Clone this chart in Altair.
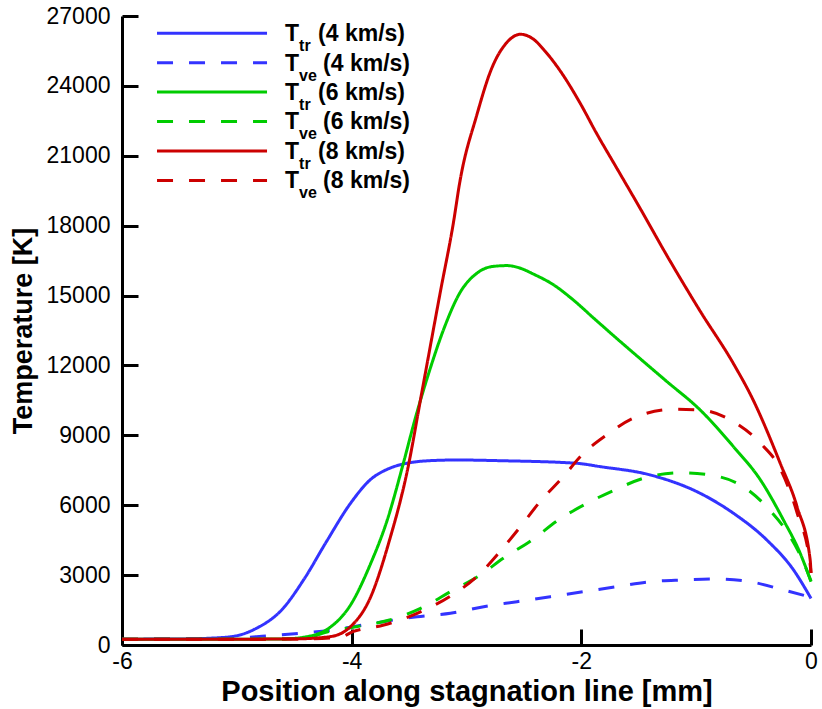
import altair as alt
import pandas as pd

# ---------------- data ----------------
x_tr4 = [-6, -5.5, -5.2, -5.0, -4.83, -4.61, -4.41, -4.22, -4.01, -3.84, -3.67, -3.52, -3.32, -3.08, -2.71,
         -2.04, -1.84, -1.40, -0.965, -0.675, -0.385, -0.152, 0]
T_tr4 = [250, 260, 300, 400, 716, 1503, 2862, 4435, 6083, 7083, 7585, 7800, 7912, 7942, 7912,
         7800, 7660, 7300, 6512, 5654, 4508, 3220, 2000]

x_ve4 = [-6, -5.5, -5.0, -4.83, -4.45, -4.16, -3.90, -3.43, -3.14, -2.85, -2.56, -2.27, -1.98, -1.69,
         -1.40, -1.11, -0.82, -0.53, -0.24, 0]
T_ve4 = [250, 260, 300, 358, 502, 644, 859, 1216, 1360, 1645, 1859, 2074, 2288, 2503,
         2718, 2790, 2833, 2718, 2361, 2047]

x_tr6 = [-6, -5.0, -4.6, -4.39, -4.20, -4.01, -3.84, -3.69, -3.55, -3.45, -3.32, -3.19, -3.06, -2.91,
         -2.78, -2.65, -2.53, -2.42, -2.24, -2.07, -1.89, -1.72, -1.49, -1.26, -0.965, -0.675, -0.44,
         -0.24, -0.094, 0]
T_tr6 = [250, 250, 260, 358, 716, 1717, 3434, 5366, 7800, 9659, 11806, 13665, 15098, 15957,
         16243, 16286, 16172, 15929, 15455, 14811, 14020, 13280, 12300, 11330, 10088, 8513, 7083,
         5366, 3937, 2718]

x_ve6 = [-6, -5.0, -4.6, -4.4, -4.2, -3.96, -3.67, -3.37, -3.14, -2.88, -2.68, -2.43, -2.20, -1.95,
         -1.71, -1.46, -1.14, -0.88, -0.59, -0.36, -0.22, -0.074, 0]
T_ve6 = [250, 250, 255, 300, 580, 787, 1073, 1645, 2288, 3005, 3722, 4508, 5366, 6083,
         6654, 7156, 7397, 7298, 6796, 5795, 4937, 3649, 2750]

x_tr8 = [-6, -5.0, -4.5, -4.19, -4.01, -3.84, -3.67, -3.52, -3.38, -3.23, -3.11, -3.06, -2.91, -2.78,
         -2.65, -2.53, -2.42, -2.32, -2.18, -2.01, -1.87, -1.69, -1.49, -1.26, -0.965, -0.678, -0.512,
         -0.268, -0.120, -0.007, 0]
T_tr8 = [250, 250, 260, 358, 787, 2003, 4508, 7370, 11090, 15098, 18245, 19821, 22753, 24758,
         25856, 26216, 26015, 25513, 24616, 23255, 21985, 20457, 18760, 16760, 14330, 12100, 10600,
         7800, 5912, 3649, 3091]

x_ve8 = [-6, -5.0, -4.5, -4.1, -3.99, -3.72, -3.43, -3.14, -2.91, -2.71, -2.53, -2.36, -2.17, -1.98,
         -1.76, -1.55, -1.20, -0.965, -0.675, -0.44, -0.27, -0.12, -0.0087, 0]
T_ve8 = [250, 250, 255, 330, 571, 859, 1360, 2100, 2932, 4005, 5079, 6152, 7156, 8230,
         9088, 9732, 10118, 10088, 9587, 8659, 7585, 5654, 3507, 3100]

series_x = [x_tr4, x_ve4, x_tr6, x_ve6, x_tr8, x_ve8]
series_T = [T_tr4, T_ve4, T_tr6, T_ve6, T_tr8, T_ve8]
series_sub = ["tr", "ve", "tr", "ve", "tr", "ve"]
series_speed = ["(4 km/s)", "(4 km/s)", "(6 km/s)", "(6 km/s)", "(8 km/s)", "(8 km/s)"]
series_color = ["#3333ff", "#3333ff", "#00cc00", "#00cc00", "#cc0000", "#cc0000"]
series_dashed = [False, True, False, True, False, True]

# legend rows (in data units)
legend_T = [26260, 24998, 23740, 22474, 21208, 19941]
legend_x0, legend_x1 = -5.695, -4.737
legend_text_x = -4.58

# tick positions
x_major = [-6, -4, -2, 0]
y_major = list(range(0, 27001, 3000))

FONT = "Liberation Sans"
W, H = 689, 629

xscale = alt.Scale(domain=[-6, 0], nice=False, zero=False)
yscale = alt.Scale(domain=[0, 27000], nice=False)

# inward ticks: tick size given as an expression evaluating to a negative length
xaxis = alt.Axis(values=x_major, labelExpr="toString(datum.value)", ticks=True,
                 tickSize={"expr": "-16"}, tickWidth=3, tickColor="black", grid=False,
                 domainColor="black", domainWidth=3, labelFontSize=23, labelColor="black",
                 labelFont=FONT, labelPadding=21, title="Position along stagnation line [mm]",
                 titleFontSize=29, titleFont=FONT, titleFontWeight="bold", titleColor="black",
                 titlePadding=4, labelFlush=False)
yaxis = alt.Axis(values=y_major, format="d", ticks=True, tickSize={"expr": "-16"}, tickWidth=3,
                 tickColor="black", grid=False, domainColor="black",
                 domainWidth=3, labelFontSize=23, labelColor="black", labelFont=FONT,
                 labelPadding=28, title="Temperature [K]", titleFontSize=27, titleFont=FONT,
                 titleFontWeight="bold", titleColor="black", titlePadding=9, labelFlush=False)


def X(field):
    return alt.X(field, type="quantitative", scale=xscale, axis=xaxis)


def Y(field):
    return alt.Y(field, type="quantitative", scale=yscale, axis=yaxis)


layers = []

for i in range(6):
    dash = [16, 16] if series_dashed[i] else [1, 0]
    df = pd.DataFrame({"x": series_x[i], "T": series_T[i], "o": list(range(len(series_x[i])))})
    layers.append(alt.Chart(df).mark_line(color=series_color[i], strokeWidth=3, strokeDash=dash,
                                          interpolate="monotone").encode(
        x=X("x"), y=Y("T"), order="o:Q"))
    leg = pd.DataFrame({"x0": [legend_x0], "x1": [legend_x1], "y": [legend_T[i]],
                        "tx": [legend_text_x], "T": ["T"], "sub": [series_sub[i]],
                        "lab": [series_speed[i]]})
    layers.append(alt.Chart(leg).mark_rule(color=series_color[i], strokeWidth=3,
                                           strokeDash=dash).encode(
        x=X("x0"), x2=alt.X2("x1"), y=Y("y")))
    layers.append(alt.Chart(leg).mark_text(align="left", baseline="alphabetic", dy=8,
                                           fontSize=23, fontWeight="bold", font=FONT,
                                           color="black").encode(
        x=X("tx"), y=Y("y"), text="T:N"))
    layers.append(alt.Chart(leg).mark_text(align="left", baseline="alphabetic", dx=14, dy=18,
                                           fontSize=16, fontWeight="bold", font=FONT,
                                           color="black").encode(
        x=X("tx"), y=Y("y"), text="sub:N"))
    layers.append(alt.Chart(leg).mark_text(align="left", baseline="alphabetic",
                                           dx=33 if series_sub[i] == "tr" else 38, dy=8,
                                           fontSize=23, fontWeight="bold", font=FONT,
                                           color="black").encode(
        x=X("tx"), y=Y("y"), text="lab:N"))

chart = alt.layer(*layers).properties(
    width=W, height=H,
    padding={"left": 122, "top": 16, "right": 11, "bottom": 64},
    autosize=alt.AutoSizeParams(type="none"),
    background="white",
).configure(font=FONT).configure_view(stroke=None)

chart.save("out.html", embed_options={"renderer": "svg", "actions": False})
